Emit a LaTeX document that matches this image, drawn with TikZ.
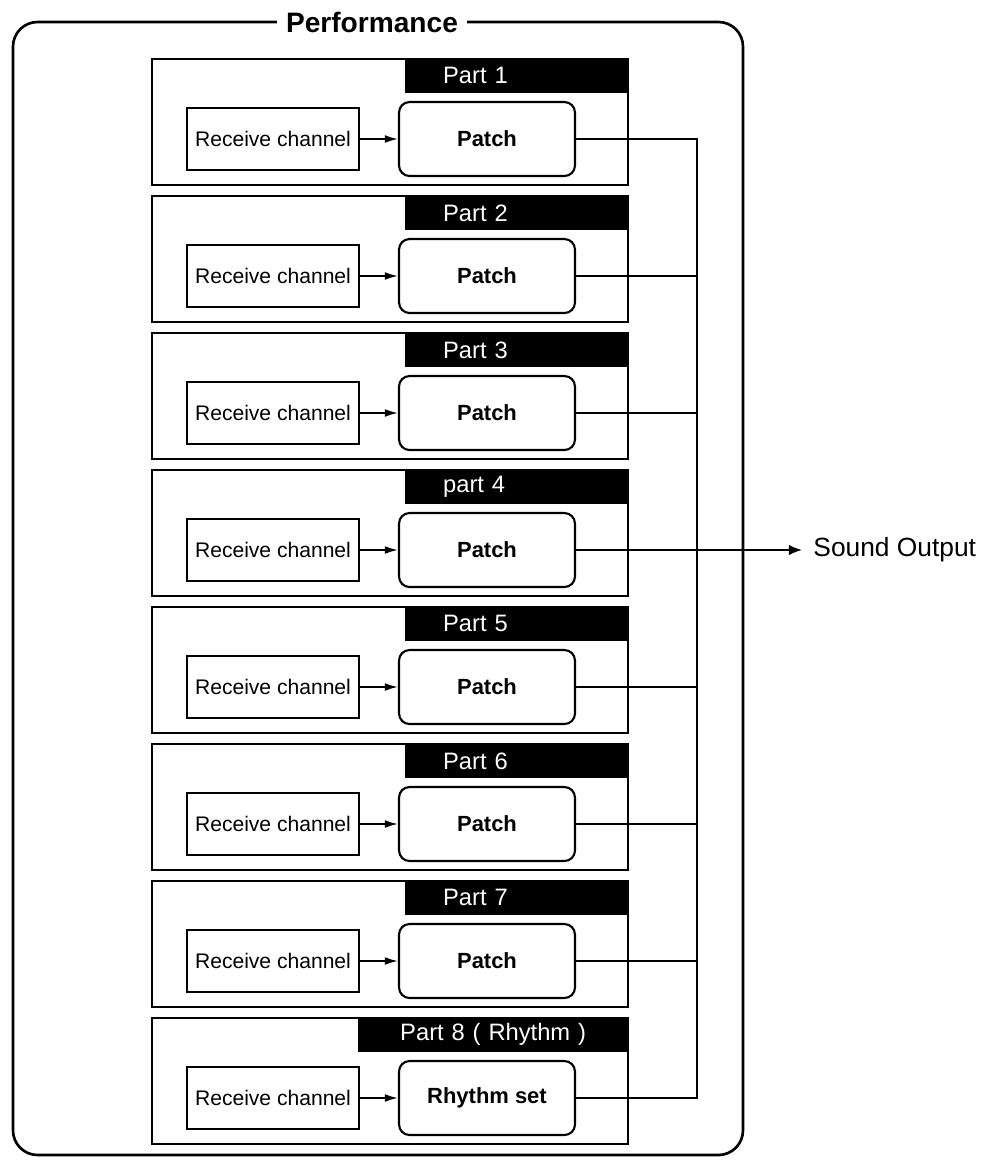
\documentclass[tikz,border=0pt]{standalone}
\usepackage{fontspec}
\setmainfont{Liberation Sans}
\usetikzlibrary{arrows.meta}

\begin{document}
\begin{tikzpicture}[x=0.02cm, y=-0.02cm, line width=1pt, >={Latex[length=7.5pt,width=4.5pt]},
   partbox/.style={draw, line width=1.2pt, minimum width=9.52cm, minimum height=2.52cm, inner sep=0pt},
   header/.style={fill=black, text=white, anchor=north east, text width=2.94cm, align=left, inner xsep=0.76cm, inner ysep=0pt, minimum height=0.68cm, font=\fontsize{13.5}{16}\selectfont},
   recv/.style={draw, minimum width=3.44cm, minimum height=1.24cm, inner sep=0pt, font=\fontsize{12}{15}\selectfont},
   patch/.style={draw, line width=1.2pt, rounded corners=6pt, minimum width=3.52cm, minimum height=1.48cm, inner sep=0pt, font=\fontsize{12.5}{15}\selectfont\bfseries}]

\useasboundingbox (0,0) rectangle (997,1167);

\draw[line width=1.5pt, rounded corners=14pt] (13,22) rectangle (743,1155);
\node[fill=white, inner sep=5pt, font=\fontsize{16}{19}\selectfont\bfseries] (perf) at (372,22) {Performance};

   \node[partbox] (pt1) at (390,122) {};
   \node[header] (hd1) at (pt1.north east) {Part 1};
   \node[recv] (rc1) at (273,139) {Receive channel};
   \node[patch] (pa1) at (487,139) {Patch};

   \node[partbox] (pt2) at (390,259) {};
   \node[header] (hd2) at (pt2.north east) {Part 2};
   \node[recv] (rc2) at (273,276) {Receive channel};
   \node[patch] (pa2) at (487,276) {Patch};

   \node[partbox] (pt3) at (390,396) {};
   \node[header] (hd3) at (pt3.north east) {Part 3};
   \node[recv] (rc3) at (273,413) {Receive channel};
   \node[patch] (pa3) at (487,413) {Patch};

   \node[partbox] (pt4) at (390,533) {};
   \node[header] (hd4) at (pt4.north east) {part 4};
   \node[recv] (rc4) at (273,550) {Receive channel};
   \node[patch] (pa4) at (487,550) {Patch};

   \node[partbox] (pt5) at (390,670) {};
   \node[header] (hd5) at (pt5.north east) {Part 5};
   \node[recv] (rc5) at (273,687) {Receive channel};
   \node[patch] (pa5) at (487,687) {Patch};

   \node[partbox] (pt6) at (390,807) {};
   \node[header] (hd6) at (pt6.north east) {Part 6};
   \node[recv] (rc6) at (273,824) {Receive channel};
   \node[patch] (pa6) at (487,824) {Patch};

   \node[partbox] (pt7) at (390,944) {};
   \node[header] (hd7) at (pt7.north east) {Part 7};
   \node[recv] (rc7) at (273,961) {Receive channel};
   \node[patch] (pa7) at (487,961) {Patch};

   \node[partbox] (pt8) at (390,1081) {};
   \node[header, text width=3.88cm, align=center] (hd8) at (pt8.north east) {Part 8 ( Rhythm )};
   \node[recv] (rc8) at (273,1098) {Receive channel};
   \node[patch] (pa8) at (487,1098) {Rhythm set};

\node[anchor=west, inner sep=6pt, font=\fontsize{15}{18}\selectfont] (out) at (802,550) {Sound Output};
\coordinate (bus) at (697,0);

\draw[->] (rc1) -- (pa1);
\draw[->] (rc2) -- (pa2);
\draw[->] (rc3) -- (pa3);
\draw[->] (rc4) -- (pa4);
\draw[->] (rc5) -- (pa5);
\draw[->] (rc6) -- (pa6);
\draw[->] (rc7) -- (pa7);
\draw[->] (rc8) -- (pa8);

\draw (pa1.east) -- (pa1.east -| bus) -- (pa8.east -| bus) -- (pa8.east);
\draw (pa2.east) -- (pa2.east -| bus);
\draw (pa3.east) -- (pa3.east -| bus);
\draw (pa5.east) -- (pa5.east -| bus);
\draw (pa6.east) -- (pa6.east -| bus);
\draw (pa7.east) -- (pa7.east -| bus);
\draw[-{Latex[length=7.5pt,width=6pt]}] (pa4.east) -- (out.west);
\end{tikzpicture}
\end{document}
